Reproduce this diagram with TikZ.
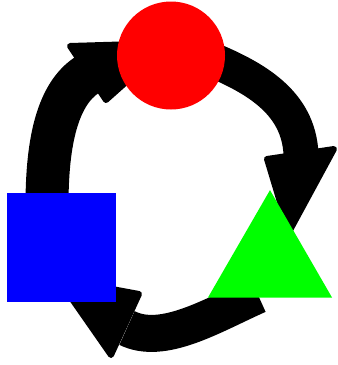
\documentclass[tikz,border=0pt]{standalone}
\usetikzlibrary{shapes.geometric}
\pgfdeclarelayer{bg}
\pgfsetlayers{bg,main}
\begin{document}
\begin{tikzpicture}[x=1pt,y=-1pt,
  shaft/.style={draw=black,line cap=butt},
  head/.style={draw=black,fill=black,line width=6pt,line join=round},
  shapebox/.style={inner sep=0pt,outer sep=0pt,draw=none}]
\useasboundingbox (0,0) rectangle (338,365);
% shapes
\node[shapebox,circle,fill=red,minimum size=108pt] (c) at (171,55.5) {};
\node[shapebox,rectangle,fill=blue,minimum size=109pt] (s) at (61.5,247.5) {};
\node[shapebox,regular polygon,regular polygon sides=3,fill=green,minimum size=143.2pt] (t) at (270,261.7) {};
% connector end points
\coordinate (a1s) at (47,205);
\coordinate (a1e) at (87,75);
\coordinate (h1a) at (70,46);
\coordinate (h1b) at (170,43);
\coordinate (h1c) at (106,100);
\coordinate (a2s) at (205,57);
\coordinate (a2e) at (301,154);
\coordinate (h2a) at (267,159);
\coordinate (h2b) at (334,149);
\coordinate (h2c) at (289,232);
\coordinate (a3s) at (258,295);
\coordinate (a3e) at (127,328);
\coordinate (h3a) at (139,294);
\coordinate (h3b) at (111,355);
\coordinate (h3c) at (58,279);
\begin{pgfonlayer}{bg}
  % square -> circle
  \draw[shaft,line width=43pt] (a1s) .. controls (47,140) and (58,94) .. (a1e);
  \draw[head] (h1a) -- (h1b) -- (h1c) -- cycle;
  % circle -> triangle
  \draw[shaft,line width=35pt] (a2s) .. controls (255,77) and (298.5,102) .. (a2e);
  \draw[head] (h2a) -- (h2b) -- (h2c) -- cycle;
  % triangle -> square
  \draw[shaft,line width=37pt] (a3s) .. controls (213,315) and (163,346) .. (a3e);
  \draw[head] (h3a) -- (h3b) -- (h3c) -- cycle;
\end{pgfonlayer}
\end{tikzpicture}
\end{document}
